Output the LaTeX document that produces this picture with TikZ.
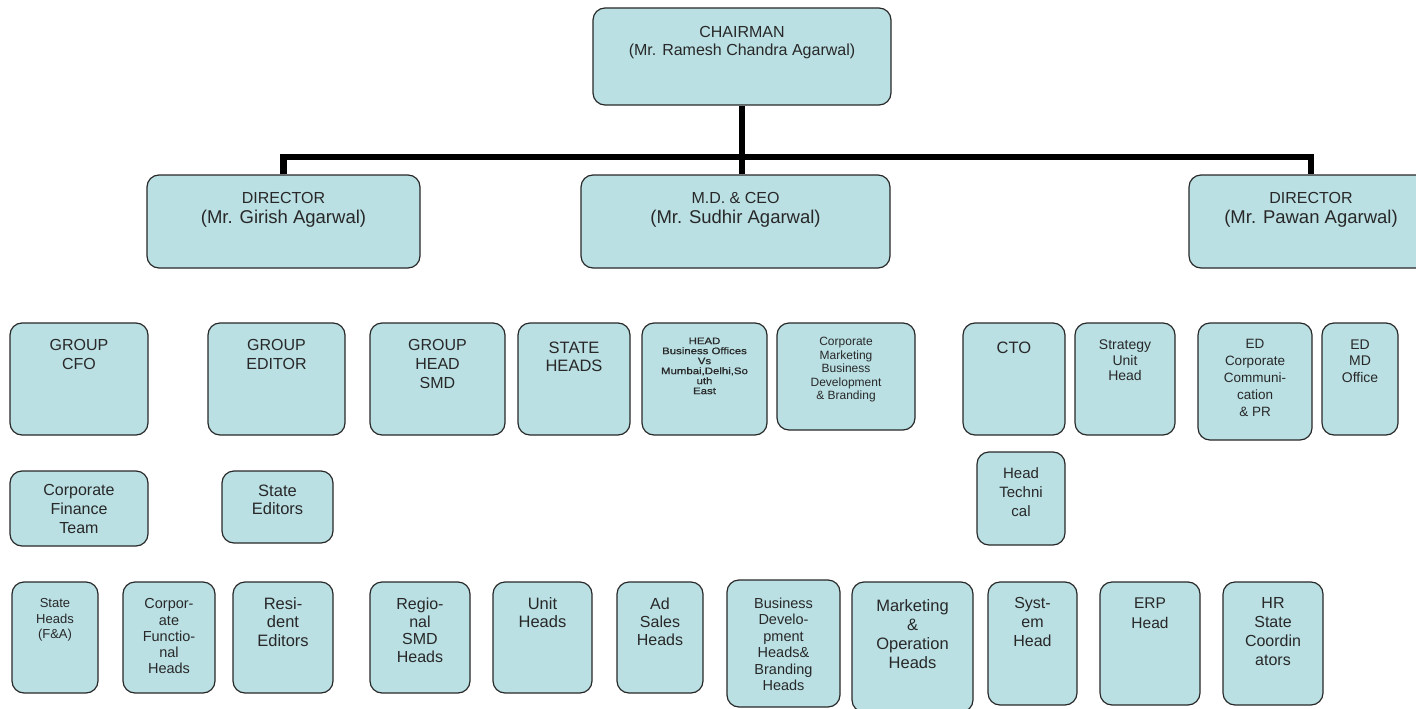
\documentclass[tikz,border=0pt]{standalone}
\usepackage{fontspec}
\setmainfont{Liberation Sans}
\newfontfamily\tinyhead[FakeStretch=1.2,FakeBold=1]{Liberation Sans}
\usetikzlibrary{positioning}
\definecolor{boxfill}{RGB}{186,224,228}
\definecolor{inkgray}{RGB}{40,40,40}
\newcommand{\fsz}[2]{\fontsize{#1}{#2}\selectfont}

\begin{document}
\begin{tikzpicture}[x=1pt,y=-1pt,
  orgbox/.style={draw=inkgray,fill=boxfill,line width=1.2pt,rounded corners=12pt,inner sep=0pt},
  orgtext/.style={align=center,inner sep=0pt,text=inkgray},
  link/.style={line width=6.5pt,line join=miter}]
  \useasboundingbox (0,0) rectangle (1416,709);
  \clip (0,0) rectangle (1416,709);

  % board
  \node[orgbox,minimum width=298pt,minimum height=97pt] (chair) at (742,56.5) {};
  \node[orgtext,font=\fsz{16}{17.7},below=19pt of chair.north] (chair-t) {CHAIRMAN\\(Mr. Ramesh Chandra Agarwal)};
  \node[orgbox,minimum width=273pt,minimum height=93pt] (girish) at (283.5,221.5) {};
  \node[orgtext,font=\fsz{18.5}{20},below=18pt of girish.north] (girish-t) {{\fsz{16}{20}DIRECTOR}\\(Mr. Girish Agarwal)};
  \node[orgbox,minimum width=309pt,minimum height=93pt] (md) at (735.5,221.5) {};
  \node[orgtext,font=\fsz{18.5}{20},below=18pt of md.north] (md-t) {{\fsz{16}{20}M.D. \& CEO}\\(Mr. Sudhir Agarwal)};
  \node[orgbox,minimum width=244pt,minimum height=93pt] (pawan) at (1311,221.5) {};
  \node[orgtext,font=\fsz{18.5}{20},below=18pt of pawan.north] (pawan-t) {{\fsz{16}{20}DIRECTOR}\\(Mr. Pawan Agarwal)};

  \coordinate (bus) at (chair.south |- 0,157);
  \draw[link] (chair.south) -- (bus);
  \draw[link] (girish.north) |- (bus) -| (pawan.north);
  \draw[link] (bus) -- (bus |- md.north);

  % first row
  \node[orgbox,minimum width=138pt,minimum height=112pt] (cfo) at (79,379) {};
  \node[orgtext,font=\fsz{16}{18.3},below=17pt of cfo.north] (cfo-t) {GROUP\\CFO};
  \node[orgbox,minimum width=137pt,minimum height=112pt] (editor) at (276.5,379) {};
  \node[orgtext,font=\fsz{16}{18.3},below=17pt of editor.north] (editor-t) {GROUP\\EDITOR};
  \node[orgbox,minimum width=135pt,minimum height=112pt] (smd) at (437.5,379) {};
  \node[orgtext,font=\fsz{16}{19},below=17pt of smd.north] (smd-t) {GROUP\\HEAD\\SMD};
  \node[orgbox,minimum width=112pt,minimum height=112pt] (stheads) at (574,379) {};
  \node[orgtext,font=\fsz{16.5}{18},below=19pt of stheads.north] (stheads-t) {STATE\\HEADS};
  \node[orgbox,minimum width=125pt,minimum height=112pt] (bizoff) at (704.5,379) {};
  \node[orgtext,font=\tinyhead\fsz{9.5}{10},below=15pt of bizoff.north] (bizoff-t) {HEAD\\Business Offices\\Vs\\Mumbai,Delhi,So\\uth\\East};
  \node[orgbox,minimum width=138pt,minimum height=107pt] (corpmkt) at (846,376.5) {};
  \node[orgtext,font=\fsz{12}{13.5},below=15pt of corpmkt.north] (corpmkt-t) {Corporate\\Marketing\\Business\\Development\\\& Branding};
  \node[orgbox,minimum width=102pt,minimum height=112pt] (cto) at (1014,379) {};
  \node[orgtext,font=\fsz{16.5}{18},below=19pt of cto.north] (cto-t) {CTO};
  \node[orgbox,minimum width=100pt,minimum height=112pt] (strategy) at (1125,379) {};
  \node[orgtext,font=\fsz{14}{15.8},below=17pt of strategy.north] (strategy-t) {Strategy\\Unit\\Head};
  \node[orgbox,minimum width=114pt,minimum height=117pt] (edcc) at (1255,381.5) {};
  \node[orgtext,font=\fsz{13.5}{17},below=17pt of edcc.north] (edcc-t) {ED\\Corporate\\Communi-\\cation\\\& PR};
  \node[orgbox,minimum width=76pt,minimum height=112pt] (edmd) at (1360,379) {};
  \node[orgtext,font=\fsz{14}{16.7},below=17pt of edmd.north] (edmd-t) {ED\\MD\\Office};

  % second row
  \node[orgbox,minimum width=138pt,minimum height=75pt] (cft) at (79,508.5) {};
  \node[orgtext,font=\fsz{16}{19},below=14pt of cft.north] (cft-t) {Corporate\\Finance\\Team};
  \node[orgbox,minimum width=111pt,minimum height=72pt] (steditors) at (277.5,507) {};
  \node[orgtext,font=\fsz{16.5}{18},below=14pt of steditors.north] (steditors-t) {State\\Editors};
  \node[orgbox,minimum width=88pt,minimum height=93pt] (headtech) at (1021,498.5) {};
  \node[orgtext,font=\fsz{15}{19},below=16pt of headtech.north] (headtech-t) {Head\\Techni\\cal};

  % third row
  \node[orgbox,minimum width=86pt,minimum height=111pt] (stfa) at (55,637.5) {};
  \node[orgtext,font=\fsz{13}{15.5},below=17pt of stfa.north] (stfa-t) {State\\Heads\\(F\&A)};
  \node[orgbox,minimum width=92pt,minimum height=111pt] (cfh) at (169,637.5) {};
  \node[orgtext,font=\fsz{14.5}{16.3},below=17pt of cfh.north] (cfh-t) {Corpor-\\ate\\Functio-\\nal\\Heads};
  \node[orgbox,minimum width=100pt,minimum height=111pt] (resed) at (283,637.5) {};
  \node[orgtext,font=\fsz{16.5}{18.3},below=16pt of resed.north] (resed-t) {Resi-\\dent\\Editors};
  \node[orgbox,minimum width=100pt,minimum height=111pt] (regsmd) at (420,637.5) {};
  \node[orgtext,font=\fsz{16}{17.8},below=16pt of regsmd.north] (regsmd-t) {Regio-\\nal\\SMD\\Heads};
  \node[orgbox,minimum width=99pt,minimum height=111pt] (unit) at (542.5,637.5) {};
  \node[orgtext,font=\fsz{16.5}{18},below=16pt of unit.north] (unit-t) {Unit\\Heads};
  \node[orgbox,minimum width=86pt,minimum height=111pt] (adsales) at (660,637.5) {};
  \node[orgtext,font=\fsz{16}{18.3},below=16pt of adsales.north] (adsales-t) {Ad\\Sales\\Heads};
  \node[orgbox,minimum width=113pt,minimum height=127pt] (bizdev) at (783.5,643.5) {};
  \node[orgtext,font=\fsz{14.5}{16.5},below=18pt of bizdev.north] (bizdev-t) {Business\\Develo-\\pment\\Heads\&\\Branding\\Heads};
  \node[orgbox,minimum width=121pt,minimum height=130pt] (mktops) at (912.5,647) {};
  \node[orgtext,font=\fsz{16.5}{19},below=18pt of mktops.north] (mktops-t) {Marketing\\\&\\Operation\\Heads};
  \node[orgbox,minimum width=89pt,minimum height=123pt] (system) at (1032.5,643.5) {};
  \node[orgtext,font=\fsz{16}{19},below=16pt of system.north] (system-t) {Syst-\\em\\Head};
  \node[orgbox,minimum width=100pt,minimum height=123pt] (erp) at (1150,643.5) {};
  \node[orgtext,font=\fsz{15.5}{20},below=16pt of erp.north] (erp-t) {ERP\\Head};
  \node[orgbox,minimum width=100pt,minimum height=123pt] (hrsc) at (1273,643.5) {};
  \node[orgtext,font=\fsz{16}{19},below=16pt of hrsc.north] (hrsc-t) {HR\\State\\Coordin\\ators};
\end{tikzpicture}
\end{document}
